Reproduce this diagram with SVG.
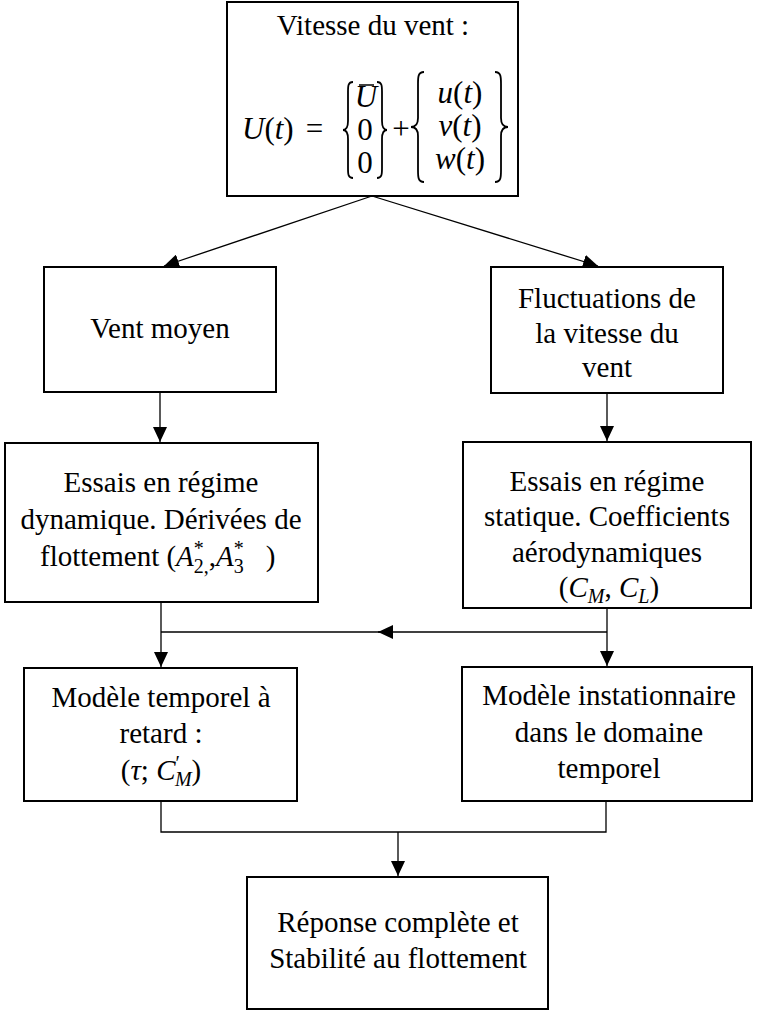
<svg xmlns="http://www.w3.org/2000/svg" width="757" height="1012" viewBox="0 0 757 1012">
<style>
.box{fill:#fff;stroke:#000;stroke-width:2}
.t{font-family:"Liberation Serif","Times New Roman",serif;font-size:29px;fill:#000;text-anchor:middle}
.m{font-family:"Liberation Serif","Times New Roman",serif;font-size:29px;fill:#000}
.f{font-family:"Liberation Serif","Times New Roman",serif;font-size:31px;fill:#000}
.mid{text-anchor:middle}
.i{font-style:italic}
.s{font-size:20px}
.c{fill:none;stroke:#000;stroke-width:1.3}
.br{fill:none;stroke:#000;stroke-width:1.8}
</style>
<defs>
<marker id="ah" markerUnits="userSpaceOnUse" markerWidth="15" markerHeight="14" refX="15" refY="7" orient="auto">
<path d="M0,0 L15,7 L0,14 Z" fill="#000"/>
</marker>
</defs>
<rect width="757" height="1012" fill="#fff"/>

<g id="connectors">
<line class="c" x1="372" y1="196" x2="164" y2="266" marker-end="url(#ah)"/>
<line class="c" x1="372" y1="196" x2="598" y2="266" marker-end="url(#ah)"/>
<line class="c" x1="160" y1="392" x2="160" y2="442" marker-end="url(#ah)"/>
<line class="c" x1="607" y1="393" x2="607" y2="441" marker-end="url(#ah)"/>
<line class="c" x1="161" y1="602" x2="161" y2="667" marker-end="url(#ah)"/>
<line class="c" x1="607" y1="608" x2="607" y2="666" marker-end="url(#ah)"/>
<line class="c" x1="607" y1="632" x2="378" y2="632" marker-end="url(#ah)"/>
<line class="c" x1="380" y1="632" x2="161" y2="632"/>
<polyline class="c" points="161,801 161,832 606,832 606,801"/>
<line class="c" x1="398" y1="832" x2="398" y2="876" marker-end="url(#ah)"/>
</g>

<g id="node-vitesse">
<rect class="box" x="227" y="2" width="291" height="194"/>
<text class="t" x="373" y="35">Vitesse du vent :</text>
<text class="f" x="242" y="139"><tspan class="i">U</tspan>(<tspan class="i">t</tspan>)<tspan dx="12">=</tspan></text>
<path class="br" d="M353,82 C348,82 348,86 348,92 L348,121 C348,127 346,130 343,130 C346,130 348,133 348,139 L348,168 C348,174 348,178 353,178"/>
<text class="f i mid" x="366" y="107">U</text>
<line x1="359" y1="85" x2="374" y2="85" stroke="#000" stroke-width="1.5"/>
<text class="f mid" x="365" y="140">0</text>
<text class="f mid" x="365" y="173">0</text>
<path class="br" d="M377,82 C382,82 382,86 382,92 L382,121 C382,127 384,130 387,130 C384,130 382,133 382,139 L382,168 C382,174 382,178 377,178"/>
<text class="f mid" x="401" y="139">+</text>
<path class="br" d="M424,72 C418,72 418,77 418,84 L418,118 C418,124 415,127 411,127 C415,127 418,130 418,136 L418,170 C418,177 418,182 424,182"/>
<text class="f mid" x="460" y="103"><tspan class="i">u</tspan>(<tspan class="i">t</tspan>)</text>
<text class="f mid" x="460" y="136"><tspan class="i">v</tspan>(<tspan class="i">t</tspan>)</text>
<text class="f mid" x="460" y="169"><tspan class="i">w</tspan>(<tspan class="i">t</tspan>)</text>
<path class="br" d="M495,72 C501,72 501,77 501,84 L501,118 C501,124 504,127 508,127 C504,127 501,130 501,136 L501,170 C501,177 501,182 495,182"/>
</g>

<g id="node-vent-moyen">
<rect class="box" x="44" y="267" width="232" height="125"/>
<text class="t" x="160" y="338">Vent moyen</text>
</g>

<g id="node-fluctuations">
<rect class="box" x="491" y="267" width="232" height="126"/>
<text class="t" x="607" y="308">Fluctuations de</text>
<text class="t" x="607" y="343">la vitesse du</text>
<text class="t" x="607" y="377">vent</text>
</g>

<g id="node-essais-dynamique">
<rect class="box" x="5" y="443" width="313" height="159"/>
<text class="t" x="161" y="492">Essais en régime</text>
<text class="t" x="161" y="529">dynamique. Dérivées de</text>
<text class="m" x="40" y="566">flottement (<tspan class="i">A</tspan><tspan class="s" dy="-11">*</tspan><tspan class="s" dx="-10" dy="18">2,</tspan><tspan dy="-7">,</tspan><tspan class="i">A</tspan><tspan class="s" dy="-11">*</tspan><tspan class="s" dx="-10" dy="18">3</tspan><tspan dx="22" dy="-7">)</tspan></text>
</g>

<g id="node-essais-statique">
<rect class="box" x="463" y="442" width="288" height="166"/>
<text class="t" x="607" y="491">Essais en régime</text>
<text class="t" x="607" y="526">statique. Coefficients</text>
<text class="t" x="607" y="562">aérodynamiques</text>
<text class="m mid" x="609" y="597">(<tspan class="i">C</tspan><tspan class="i s" dy="6">M</tspan><tspan dy="-6">, </tspan><tspan class="i">C</tspan><tspan class="i s" dy="6">L</tspan><tspan dy="-6">)</tspan></text>
</g>

<g id="node-modele-temporel">
<rect class="box" x="24" y="668" width="273" height="133"/>
<text class="t" x="161" y="707">Modèle temporel à</text>
<text class="t" x="161" y="743">retard :</text>
<text class="m mid" x="161" y="780">(<tspan class="i">τ</tspan>; <tspan class="i">C</tspan><tspan class="s" dy="-10">′</tspan><tspan class="i s" dx="-5" dy="16">M</tspan><tspan dy="-6">)</tspan></text>
</g>

<g id="node-modele-instationnaire">
<rect class="box" x="462" y="667" width="290" height="134"/>
<text class="t" x="609" y="705">Modèle instationnaire</text>
<text class="t" x="609" y="742">dans le domaine</text>
<text class="t" x="609" y="778">temporel</text>
</g>

<g id="node-reponse">
<rect class="box" x="247" y="877" width="301" height="132"/>
<text class="t" x="398" y="932">Réponse complète et</text>
<text class="t" x="398" y="968">Stabilité au flottement</text>
</g>
</svg>
